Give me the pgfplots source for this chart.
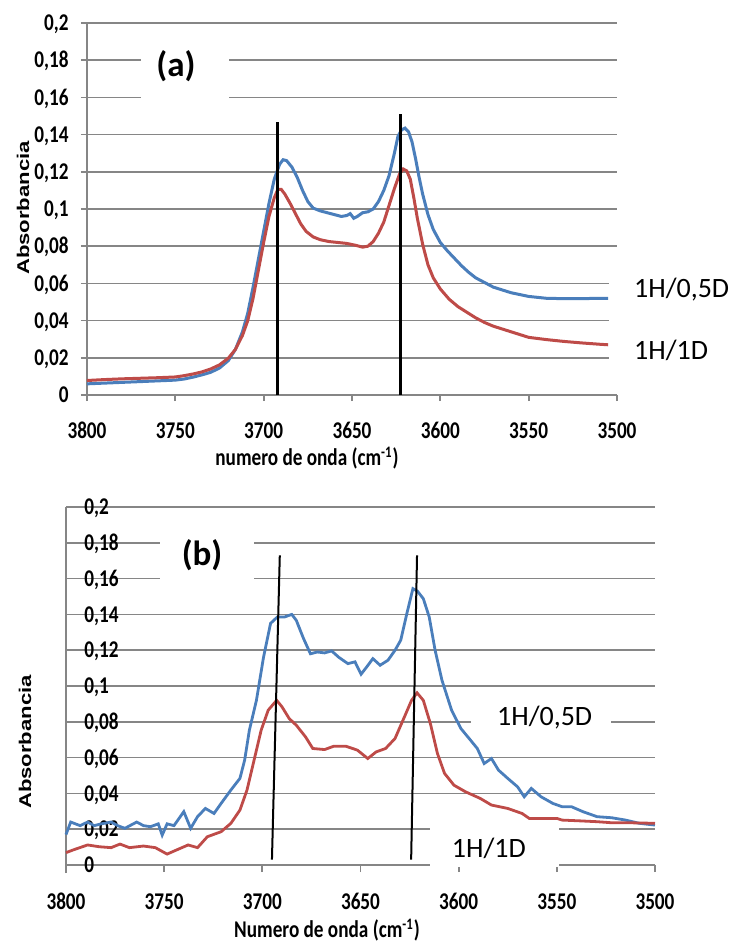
\documentclass[border=0pt]{standalone}
\usepackage{fontspec}
\setmainfont{Carlito}
\newfontfamily\tickfont[FakeStretch=0.8]{Carlito}
\newfontfamily\absfont[FakeStretch=1.3]{Liberation Sans}
\usepackage{pgfplots}
\pgfplotsset{compat=1.18}
\definecolor{xlblue}{HTML}{4A7EBB}
\definecolor{xlred}{HTML}{BE4B48}
\definecolor{xlgrid}{HTML}{868686}
\newcommand\tk{\tickfont\bfseries\fontsize{12pt}{12pt}\selectfont}

\pgfplotsset{
  spec/.style={
    scale only axis, x dir=reverse,
    xmin=3500, xmax=3800, ymin=0, ymax=0.2,
    xtick={3500,3550,3600,3650,3700,3750,3800},
    ytick={0,0.02,0.04,0.06,0.08,0.1,0.12,0.14,0.16,0.18,0.2},
    scaled y ticks=false, clip=false,
    ymajorgrids, major grid style={xlgrid, line width=0.85pt},
    axis line style={draw=none},
    tick style={xlgrid, line width=0.85pt},
    tick align=outside, major tick length=3pt,
    xtick pos=bottom, ytick pos=left,
    tick label style={font=\tk, inner sep=0pt},
    /pgf/number format/assume math mode=true,
    xticklabel style={anchor=north, yshift=-10.5pt, /pgf/number format/set thousands separator={}},
    yticklabel style={/pgf/number format/fixed, /pgf/number format/precision=2, /pgf/number format/use comma},
  },
  blu/.style={xlblue, line width=1.5pt},
  rd/.style={xlred, line width=1.5pt},
}

\begin{document}
\begin{tikzpicture}[x=0.5pt,y=-0.5pt]
\path[use as bounding box] (0,0) rectangle (733,943);
\coordinate (OA) at (87,395);
\coordinate (OB) at (66,865);

% ---------- (a)
\begin{axis}[spec, at={(OA)}, anchor=south west, width=265pt, height=186pt,
  yticklabel style={anchor=base east, xshift=-6pt, yshift=-3.8pt}]
\fill[white] (axis cs:3769.4,0.1882) rectangle (axis cs:3719.6,0.1543);
\fill[white] (axis cs:3504.5,0.0672) rectangle (axis cs:3492,0.0134);
\node[font=\bfseries\fontsize{17.5pt}{17.5pt}\selectfont] at (axis cs:3749.6,0.1769) {(a)};
\node[anchor=west, font=\fontsize{14pt}{14pt}\selectfont] at (axis cs:3494.3,0.0565) {1H/0,5D};
\node[anchor=west, font=\fontsize{14pt}{14pt}\selectfont] at (axis cs:3494.3,0.0242) {1H/1D};
\draw[xlgrid, line width=0.85pt] (axis cs:3800,0) -- (axis cs:3800,0.2);

\addplot[blu] coordinates {
(3800,0.0060) (3790,0.0064) (3780,0.0068) (3770,0.0072) (3760,0.0076) (3750,0.0080)
(3745,0.0086) (3740,0.0096) (3735,0.0108) (3730,0.0122) (3725,0.0145) (3720,0.0185)
(3716,0.0245) (3712,0.034) (3709,0.044) (3706,0.058) (3703,0.073) (3700,0.088)
(3697,0.103) (3694,0.116) (3691,0.124) (3689,0.1265) (3687,0.126) (3684,0.1225)
(3681,0.117) (3678,0.110) (3675,0.104) (3672,0.1005) (3668,0.099) (3664,0.098)
(3660,0.097) (3656,0.096) (3653,0.0965) (3651,0.0975) (3649,0.095) (3647,0.096)
(3644,0.098) (3641,0.0985) (3638,0.100) (3635,0.104) (3632,0.110) (3629,0.118)
(3626,0.130) (3624,0.139) (3622,0.1425) (3620,0.1435) (3618,0.1415) (3616,0.136)
(3614,0.127) (3612,0.117) (3610,0.108) (3607,0.097) (3604,0.089) (3600,0.082)
(3596,0.0775) (3592,0.0735) (3588,0.0695) (3584,0.066) (3580,0.063) (3575,0.0605)
(3570,0.058) (3565,0.0565) (3560,0.055) (3555,0.054) (3550,0.053) (3545,0.0525)
(3540,0.052) (3530,0.0518) (3520,0.0518) (3510,0.052) (3505,0.052)
};
\addplot[rd] coordinates {
(3800,0.0078) (3790,0.0083) (3780,0.0087) (3770,0.0090) (3760,0.0093) (3750,0.0097)
(3745,0.0104) (3740,0.0113) (3735,0.0124) (3730,0.0140) (3725,0.0162) (3720,0.0198)
(3716,0.0245) (3712,0.032) (3709,0.040) (3706,0.052) (3703,0.067) (3700,0.082)
(3697,0.096) (3694,0.106) (3692,0.1105) (3690,0.1105) (3688,0.108) (3685,0.103)
(3682,0.0975) (3679,0.092) (3676,0.088) (3672,0.085) (3668,0.0835) (3663,0.0825)
(3658,0.082) (3653,0.0815) (3648,0.0805) (3644,0.0795) (3641,0.080) (3638,0.0825)
(3635,0.087) (3632,0.093) (3629,0.102) (3626,0.111) (3623,0.119) (3621,0.1215)
(3619,0.1205) (3617,0.116) (3615,0.106) (3613,0.095) (3610,0.081) (3607,0.070)
(3604,0.063) (3600,0.057) (3595,0.0515) (3590,0.0475) (3585,0.0445) (3580,0.0415)
(3575,0.039) (3570,0.037) (3565,0.0355) (3560,0.034) (3555,0.0325) (3550,0.031)
(3540,0.0298) (3530,0.0288) (3520,0.028) (3510,0.0273) (3505,0.027)
};
\addplot[black, line width=1.5pt] coordinates {(3692.3,0) (3692.3,0.147)};
\addplot[black, line width=1.5pt] coordinates {(3622.5,0) (3622.5,0.151)};
\end{axis}
\node[font=\tk] at (307,458) {numero de onda (cm\textsuperscript{-1})};
\node[rotate=90, font=\absfont\bfseries\fontsize{8.5pt}{8.5pt}\selectfont] at (23,208) {Absorbancia};

% ---------- (b)
\begin{axis}[spec, at={(OB)}, anchor=south west, width=294.5pt, height=179pt,
  ytick style={draw=none}, major tick length=3.5pt,
  yticklabel style={anchor=base west, xshift=12.5pt, yshift=-3.8pt}]
\fill[white] (axis cs:3752.1,0.1883) rectangle (axis cs:3704.2,0.1536);
\fill[white] (axis cs:3593.7,0.0888) rectangle (axis cs:3522.4,0.0749);
\fill[white] (axis cs:3614.6,0.024) rectangle (axis cs:3548.9,-0.0011);
\node[font=\bfseries\fontsize{17.5pt}{17.5pt}\selectfont] at (axis cs:3730.7,0.1732) {(b)};
\node[anchor=west, font=\fontsize{14pt}{14pt}\selectfont] at (axis cs:3584.0,0.0821) {1H/0,5D};
\node[anchor=west, font=\fontsize{14pt}{14pt}\selectfont] at (axis cs:3607.0,0.0095) {1H/1D};
\draw[xlgrid, line width=0.85pt] (axis cs:3800,-0.0045) -- (axis cs:3800,0.2);

\addplot[blu, line width=1.4pt] coordinates {
(3800,0.017) (3797.6,0.024) (3792.8,0.022) (3789,0.024) (3785.6,0.022) (3782,0.023)
(3777,0.024) (3773.7,0.022) (3770,0.0205) (3764,0.024) (3760.5,0.022) (3757,0.0214)
(3753,0.023) (3751,0.0167) (3748.5,0.023) (3745,0.022) (3740,0.0298) (3736.5,0.0205)
(3733,0.027) (3729,0.0316) (3724.6,0.0288) (3721,0.0344) (3716,0.0419) (3711.4,0.0484)
(3709,0.0586) (3706.6,0.0753) (3703,0.092) (3699.4,0.116) (3695.8,0.135) (3692.3,0.1386)
(3688.6,0.1386) (3685,0.140) (3682.7,0.1367) (3679,0.1265) (3675.5,0.118) (3672,0.119)
(3668.3,0.1185) (3664.7,0.1196) (3661,0.116) (3656.4,0.1125) (3652.8,0.1135) (3649.7,0.1066)
(3646.8,0.1107) (3643.7,0.1153) (3640,0.1116) (3636,0.1144) (3632.4,0.120) (3629.5,0.1256)
(3626.4,0.1404) (3623.3,0.1544) (3621,0.153) (3618,0.1488) (3615,0.1386) (3612,0.120)
(3608.5,0.1032) (3603.6,0.0865) (3598.9,0.0763) (3594,0.0698) (3590.5,0.0651) (3587,0.0567)
(3583.3,0.0595) (3579.7,0.053) (3575,0.0484) (3570,0.0437) (3566.6,0.0381) (3563,0.0428)
(3558,0.0381) (3552,0.0344) (3547.4,0.0326) (3542.6,0.0326) (3536.7,0.0298) (3529.5,0.027)
(3522,0.0264) (3515,0.0251) (3508,0.0233) (3500,0.0223)
};
\addplot[rd, line width=1.4pt] coordinates {
(3800,0.0069) (3796.4,0.0084) (3789,0.0112) (3783,0.0102) (3777,0.0097) (3772.5,0.0117)
(3767.7,0.0097) (3760.5,0.0106) (3754.5,0.0097) (3748.5,0.0061) (3743.7,0.0084) (3737.8,0.0112)
(3733,0.0097) (3728,0.0158) (3721,0.0186) (3716,0.0233) (3711.4,0.0307) (3707.8,0.0419)
(3704.2,0.0586) (3700.6,0.0753) (3697,0.0865) (3692.7,0.092) (3690,0.0884) (3686.3,0.0818)
(3682.7,0.0781) (3678,0.0716) (3674.3,0.0651) (3668.3,0.0645) (3663.5,0.0664) (3657.6,0.0664)
(3651.6,0.0642) (3646.3,0.0595) (3642,0.0632) (3637.2,0.0651) (3632.4,0.0707) (3627.6,0.0828)
(3624,0.092) (3621.2,0.0962) (3618,0.092) (3614.4,0.079) (3610.8,0.0623) (3607.2,0.0512)
(3602.4,0.0446) (3596.5,0.0409) (3589,0.0372) (3583.3,0.0335) (3575,0.0316) (3567.7,0.0288)
(3564,0.026) (3554.6,0.026) (3549.8,0.026) (3547.4,0.0251) (3539,0.0247) (3529.5,0.0242)
(3522,0.0236) (3513,0.0236) (3500,0.0233)
};
\addplot[black, line width=1pt] coordinates {(3695.1,0.003) (3691.1,0.173)};
\addplot[black, line width=1pt] coordinates {(3624.2,0.003) (3621.2,0.173)};
\end{axis}
\node[font=\tk] at (327,930) {Numero de onda (cm\textsuperscript{-1})};
\node[rotate=90, font=\absfont\bfseries\fontsize{8.5pt}{8.5pt}\selectfont] at (25,742) {Absorbancia};
\end{tikzpicture}
\end{document}
